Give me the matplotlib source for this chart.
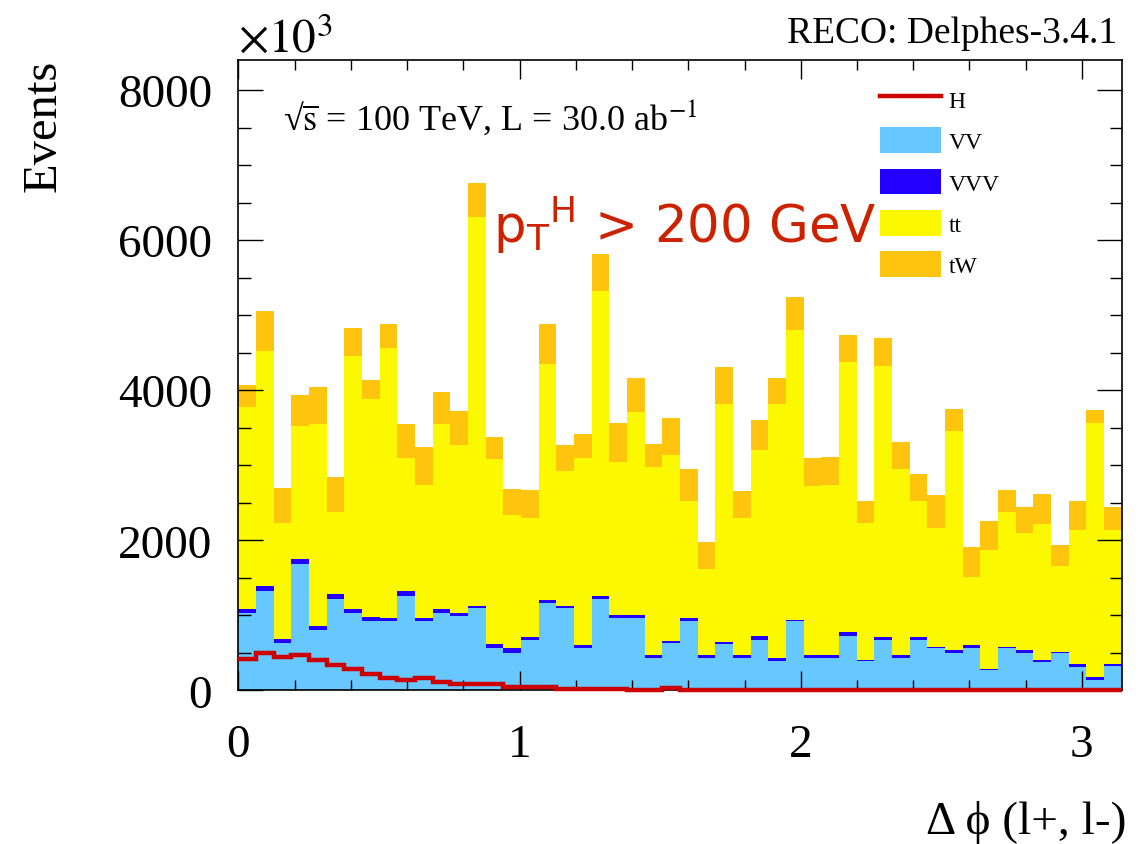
import numpy as np
import matplotlib
matplotlib.use('Agg')
import matplotlib.pyplot as plt
from matplotlib.ticker import MultipleLocator
from matplotlib.lines import Line2D
from matplotlib.patches import Patch

plt.rcParams['font.family'] = ['Liberation Serif', 'DejaVu Serif']
plt.rcParams['mathtext.fontset'] = 'stix'

# 50 bins of delta phi between 0 and pi
edges = np.linspace(0, np.pi, 51)

# Per-bin yields (events)
vv = [1028, 1328, 634, 1687, 800, 1216, 1028, 930, 930, 1261,
      930, 1028, 992, 1095, 567, 504, 669, 1163, 1095, 567,
      1221, 970, 970, 437, 627, 925, 437, 625, 437, 669,
      392, 925, 437, 437, 728, 387, 669, 437, 669, 562,
      500, 567, 266, 562, 504, 374, 500, 312, 145, 329]
vvv = [63, 59, 54, 58, 57, 63, 63, 54, 35, 59,
       35, 63, 36, 37, 58, 63, 41, 36, 37, 35,
       36, 31, 31, 40, 38, 36, 36, 18, 36, 59,
       35, 18, 36, 36, 45, 23, 37, 36, 37, 19,
       35, 35, 19, 19, 36, 36, 17, 35, 36, 18]
tt = [2689, 3130, 1548, 1777, 2687, 1103, 3367, 2900, 3594, 1781,
      1774, 2453, 2241, 5182, 2454, 1773, 1588, 3150, 1798, 2497,
      4069, 2039, 2711, 2495, 2475, 1570, 1148, 3179, 1825, 2480,
      3395, 3856, 2249, 2262, 3599, 1825, 3621, 2476, 1825, 1586,
      2927, 910, 1586, 1799, 1558, 1802, 1140, 1797, 3386, 1797]
tw = [294, 543, 467, 416, 503, 465, 376, 249, 330, 443,
      511, 426, 461, 444, 294, 340, 378, 536, 341, 317,
      487, 527, 446, 318, 486, 418, 359, 482, 355, 401,
      336, 437, 377, 382, 364, 296, 364, 355, 359, 432,
      292, 395, 381, 296, 351, 401, 278, 387, 168, 305]
higgs = [423, 495, 446, 468, 410, 343, 280, 218, 172, 145,
         172, 110, 91, 91, 91, 43, 43, 43, 20, 20,
         20, 20, 5, 5, 30, 4, 4, 3, 3, 3,
         3, 3, 3, 3, 3, 3, 3, 3, 3, 3,
         3, 3, 3, 3, 3, 3, 3, 3, 3, 3]

samples = [("VV", vv, '#66c8ff'), ("VVV", vvv, '#2200ff'),
           ("tt", tt, '#fbf800'), ("tW", tw, '#ffc40e')]

fig = plt.figure(figsize=(11.46, 8.45), dpi=100)
ax = fig.add_axes([0.2081, 0.1817, 0.7707, 0.7461])

# stacked histogram
bottom = np.zeros(50)
for name, vals, col in samples:
    top = bottom + np.array(vals)
    ax.stairs(top, edges, baseline=bottom, fill=True, color=col, lw=0, zorder=1)
    bottom = top

ax.stairs(higgs, edges, baseline=None, color='#cc0000', lw=3.2, zorder=3, clip_on=False)

ax.set_xlim(0, np.pi)
ax.set_ylim(0, 8400)
ax.xaxis.set_major_locator(MultipleLocator(1))
ax.xaxis.set_minor_locator(MultipleLocator(0.2))
ax.yaxis.set_major_locator(MultipleLocator(2000))
ax.yaxis.set_minor_locator(MultipleLocator(500))
ax.tick_params(which='both', direction='in', top=True, right=True, width=1.0, labelsize=34)
ax.tick_params(axis='y', which='major', length=18, pad=19)
ax.tick_params(axis='y', which='minor', length=9)
ax.tick_params(axis='x', which='major', length=14, pad=24)
ax.tick_params(axis='x', which='minor', length=7)
for sp in ax.spines.values():
    sp.set_linewidth(1.2)

# labels and annotations
fig.text(0.0384, 0.929, "Events", rotation=90, ha='center', va='top', fontsize=35)
fig.text(0.9834, 0.027, "Δ ϕ (l+, l-)", ha='right', va='center', fontsize=34)
fig.text(0.2077, 0.9373, r'$\times10^{3}$', ha='left', va='baseline', fontsize=34)
fig.text(0.9747, 0.9491, "RECO: Delphes-3.4.1", ha='right', va='baseline', fontsize=27)
fig.text(0.247, 0.847, r'√$\overline{\mathrm{s}}$ = 100 TeV, L = 30.0 ab$^{-1}$',
         ha='left', va='baseline', fontsize=26)
fig.text(0.4302, 0.7124, r'$\mathdefault{{p_{T}}^{H}}$ > 200 GeV', ha='left', va='baseline',
         fontsize=37, color='#cc2200', family='DejaVu Sans')

handles = [Line2D([], [], color='#cc0000', lw=3.2)]
labels = ["H"]
for name, vals, col in samples:
    handles.append(Patch(facecolor=col, edgecolor='none'))
    labels.append(name)
fig.legend(handles, labels, loc='upper left', bbox_to_anchor=(0.7679, 0.897),
           bbox_transform=fig.transFigure, frameon=False, fontsize=17,
           borderpad=0, borderaxespad=0, handlelength=2.6, handleheight=1.3,
           labelspacing=0.66, handletextpad=0.3)

fig.savefig('out.png', dpi=100)
